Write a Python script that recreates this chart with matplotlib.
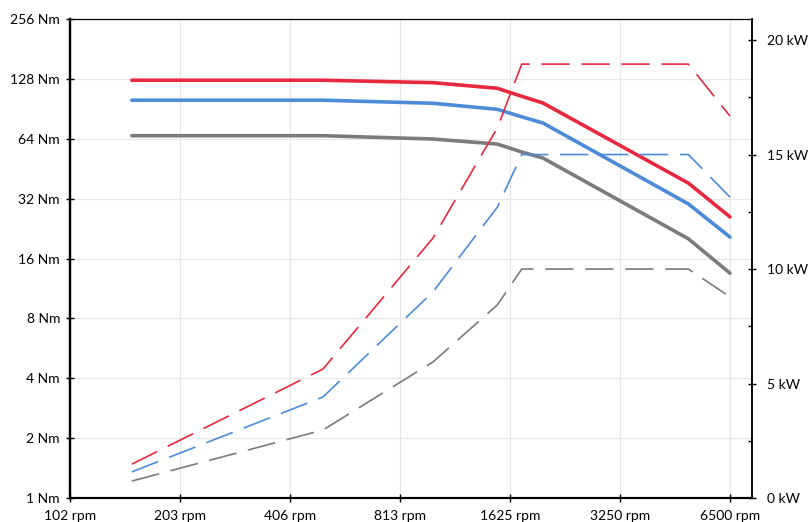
import matplotlib
matplotlib.use("Agg")
import matplotlib.pyplot as plt

plt.rcParams['font.family'] = ['Lato', 'DejaVu Sans']

rpm = [150, 500, 1000, 1500, 1750, 2000, 5000, 6500]

torque_red = [126, 126, 122.5, 114.8, 104.6, 96.8, 38.3, 25.9]
torque_blue = [100, 100, 96.5, 90, 82.5, 76.8, 30.1, 20.5]
torque_gray = [66.3, 66.3, 63.8, 60.2, 54.9, 51.2, 20.1, 13.5]

power_red = [1.48, 5.63, 11.35, 16.16, 18.95, 18.95, 18.95, 16.68]
power_blue = [1.14, 4.41, 9.0, 12.7, 15.0, 15.0, 15.0, 13.14]
power_gray = [0.74, 2.97, 5.94, 8.43, 10.0, 10.0, 10.0, 8.78]

x_ticks = [102, 203, 406, 813, 1625, 3250, 6500]
x_tick_labels = ["102 rpm", "203 rpm", "406 rpm", "813 rpm", "1625 rpm", "3250 rpm", "6500 rpm"]
y_ticks = [1, 2, 4, 8, 16, 32, 64, 128, 256]
y_tick_labels = ["1 Nm", "2 Nm", "4 Nm", "8 Nm", "16 Nm", "32 Nm", "64 Nm", "128 Nm", "256 Nm"]
kw_ticks = [0, 5, 10, 15, 20]
kw_tick_labels = ["0 kW", "5 kW", "10 kW", "15 kW", "20 kW"]
kw_minor = [2.5, 7.5, 12.5, 17.5]

RED = "#E8283F"
BLUE = "#4C8BD8"
GRAY = "#7B7B7B"

fig = plt.figure(figsize=(8.1, 5.22), dpi=100)
ax = fig.add_axes([70/810, 1-498/522, (752-70)/810, (498-19)/522])

ax.set_xscale('log', base=2)
ax.set_yscale('log', base=2)
ax.set_xlim(6500/64, 6500*2**(22/110))
ax.set_ylim(1, 256)

for t, c in [(torque_red, RED), (torque_blue, BLUE), (torque_gray, GRAY)]:
    ax.plot(rpm, t, color=c, lw=2.6, solid_capstyle='round', solid_joinstyle='round', zorder=3)

ax.set_xticks([6500/2**k for k in range(6, -1, -1)])
ax.set_xticklabels(x_tick_labels)
ax.xaxis.set_minor_locator(matplotlib.ticker.NullLocator())
ax.set_yticks(y_ticks)
ax.set_yticklabels(y_tick_labels)
ax.yaxis.set_minor_locator(matplotlib.ticker.NullLocator())
ax.grid(True, color="#e6e6e6", lw=0.8, zorder=0)
ax.set_axisbelow(True)

ax.tick_params(axis='both', direction='inout', length=6, width=1.0, labelsize=10, colors='black')
ax.tick_params(axis='x', pad=5.5)
ax.tick_params(axis='y', pad=4.2)

ax2 = ax.twinx()
ax2.set_ylim(0, 20.92)
for p, c in [(power_red, RED), (power_blue, BLUE), (power_gray, GRAY)]:
    ax2.plot(rpm, p, color=c, lw=1.2, dashes=(17, 7), zorder=3)
ax2.set_yticks(kw_ticks)
ax2.set_yticklabels(kw_tick_labels)
ax2.set_yticks(kw_minor, minor=True)
ax2.tick_params(axis='y', which='major', direction='inout', length=6, width=1.0, labelsize=10, pad=7.8)
ax2.tick_params(axis='y', which='minor', direction='in', length=3, width=1.0)

for a in (ax, ax2):
    a.spines['left'].set_linewidth(1.6)
    a.spines['bottom'].set_linewidth(1.5)
    a.spines['right'].set_linewidth(1.1)
    a.spines['top'].set_linewidth(0.8)

fig.savefig("out.png", dpi=100)
